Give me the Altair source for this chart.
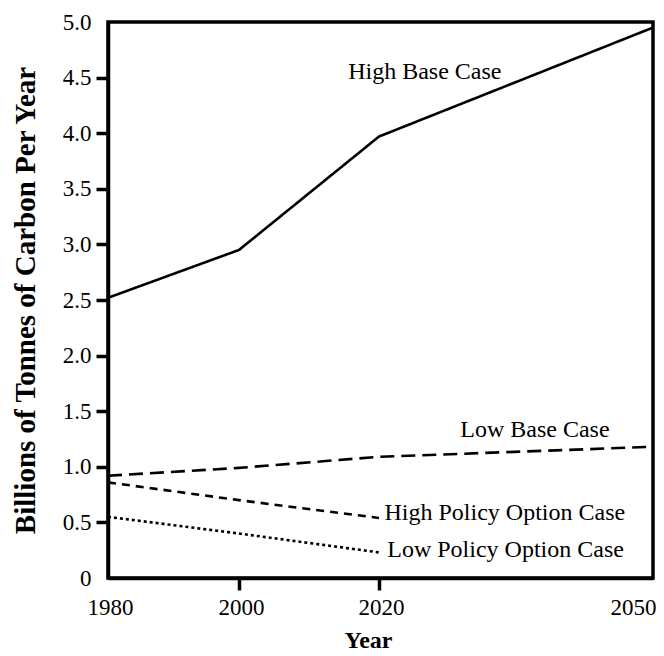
import altair as alt
import pandas as pd

# ---- data ----
years = [1980, 2000, 2020, 2050]
high_base = [2.52, 2.95, 3.97, 4.95]
low_base = [0.92, 0.99, 1.09, 1.18]

policy_years = [1980, 2000, 2020]
high_policy = [0.86, 0.70, 0.54]
low_policy = [0.55, 0.40, 0.23]

series_names = ["High Base Case", "Low Base Case", "High Policy Option Case", "Low Policy Option Case"]

label_text = ["High Base Case", "Low Base Case", "High Policy Option Case", "Low Policy Option Case"]
label_year = [2015.6, 2028.9, 2020.6, 2020.9]
label_value = [4.55, 1.33, 0.585, 0.25]

x_ticks = [1980, 2000, 2020, 2050]
y_ticks = [0, 0.5, 1.0, 1.5, 2.0, 2.5, 3.0, 3.5, 4.0, 4.5, 5.0]

rows = []
for name, xs, ys in [
    (series_names[0], years, high_base),
    (series_names[1], years, low_base),
    (series_names[2], policy_years, high_policy),
    (series_names[3], policy_years, low_policy),
]:
    for x, y in zip(xs, ys):
        rows.append({"series": name, "year": x, "value": y})
df = pd.DataFrame(rows)
labels = pd.DataFrame({"text": label_text, "year": label_year, "value": label_value})

SERIF = "'Liberation Serif', 'Times New Roman', 'DejaVu Serif', serif"

xscale = alt.Scale(domain=[1980, 2000, 2020, 2050], range=[0, 131, 271, 545], zero=False, nice=False)
yscale = alt.Scale(domain=[0, 5], zero=True, nice=False)

xaxis = alt.Axis(
    values=x_ticks, format="d", title="Year",
    titleX=260, titleY=62, titleBaseline="middle", titleAnchor="middle", titleFontSize=24,
    labelPadding=6, tickSize=12, labelFlush=False,
    labelAlign={"condition": {"test": "datum.value == 2050", "value": "right"}, "value": "center"},
    labelOffset={"condition": {"test": "datum.value == 2050", "value": 3}, "value": 2},
    tickOpacity={"condition": {"test": "datum.value == 1980 || datum.value == 2050", "value": 0}, "value": 1},
)
yaxis = alt.Axis(
    values=y_ticks, title="Billions of Tonnes of Carbon Per Year",
    labelExpr="datum.value == 0 ? '0' : format(datum.value, '.1f')",
    titleX=-83, titleY=278, titleBaseline="middle", titleFontSize=29,
    labelPadding=5, tickSize=12,
    tickOpacity={"condition": {"test": "datum.value == 0 || datum.value == 5", "value": 0}, "value": 1},
)

lines = alt.Chart(df).mark_line(color="black", strokeWidth=2.6, clip=True).encode(
    x=alt.X("year:Q", scale=xscale, axis=xaxis),
    y=alt.Y("value:Q", scale=yscale, axis=yaxis),
    detail="series:N",
    strokeDash=alt.StrokeDash(
        "series:N",
        scale=alt.Scale(domain=series_names, range=[[1, 0], [14, 7], [8, 6], [3, 3]]),
        legend=None,
    ),
)

text = alt.Chart(labels).mark_text(
    align="left", baseline="middle", font=SERIF, fontSize=24, color="black"
).encode(
    x=alt.X("year:Q", scale=xscale),
    y=alt.Y("value:Q", scale=yscale),
    text="text:N",
)

chart = (
    alt.layer(lines, text)
    .properties(
        width=545, height=556,
        autosize=alt.AutoSizeParams(type="none"),
        padding={"left": 100, "top": 14, "right": 3, "bottom": 78},
        background="white",
    )
    .configure_view(stroke="black", strokeWidth=3.5)
    .configure_axis(
        domainColor="black", domainWidth=3.5,
        tickColor="black", tickWidth=3.5,
        grid=False,
        labelFont=SERIF, labelFontSize=23, labelColor="black",
        titleFont=SERIF, titleFontWeight="bold", titleColor="black",
    )
)

chart.save("out.html", embed_options={"renderer": "svg", "actions": False})
